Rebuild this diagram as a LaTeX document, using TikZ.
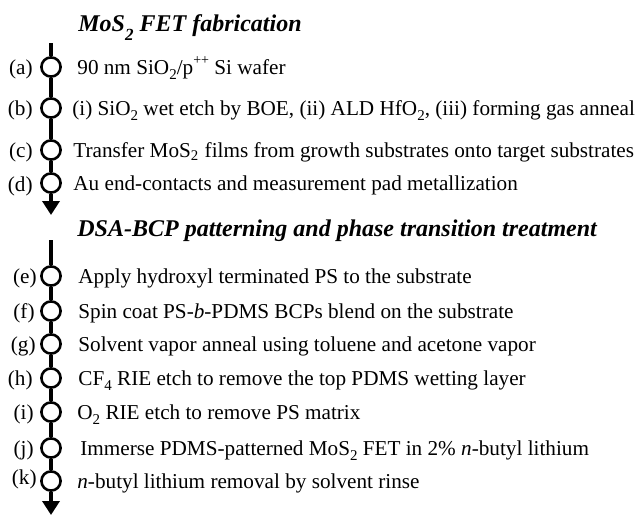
\documentclass[tikz,border=0pt]{standalone}
\usepackage{fontspec}
\setmainfont{Liberation Serif}
\usepackage{tikz}
\usetikzlibrary{positioning,arrows.meta}

% lowered and raised indices as the figure sets them
\newcommand{\lsub}[1]{\raisebox{-0.6ex}{\fontsize{7.5}{8}\selectfont #1}}
\newcommand{\tsub}[1]{\raisebox{-0.9ex}{\fontsize{8.5}{9}\selectfont #1}}
\newcommand{\hsup}[1]{\raisebox{1.0ex}{\fontsize{7}{8}\selectfont #1}}

\tikzset{
  stage/.style={circle, draw, line width=1.3pt, fill=white, inner sep=0pt, minimum size=9.6pt},
  spine/.style={line width=2.2pt},
  lbl/.style={anchor=base east, inner sep=0pt, font=\fontsize{10.6}{12}\selectfont},
  txt/.style={anchor=base west, inner sep=0pt, font=\fontsize{10.6}{12}\selectfont},
  ttl/.style={anchor=base west, inner sep=0pt, font=\fontsize{12}{14}\selectfont\bfseries\itshape}
}

\begin{document}
\begin{tikzpicture}[x=0.5pt, y=-0.5pt]

    \useasboundingbox (0,0) rectangle (639,515);

    % Titles
    \node[ttl] (t1) at (78,31) {MoS\tsub{2} FET fabrication};
    \node[ttl] (t2) at (77,236) {DSA-BCP patterning and phase transition treatment};

    % Spine ends
    \coordinate (top1) at (51,43);
    \coordinate (end1) at (51,215);
    \coordinate (top2) at (51,240);
    \coordinate (end2) at (51,515);

    % Circles of the first part
    \node[stage] (a) at (51,67) {};
    \node[stage] (b) at (51,108) {};
    \node[stage] (c) at (51,150) {};
    \node[stage] (d) at (51,183) {};

    % Circles of the second part
    \node[stage] (e) at (51,276) {};
    \node[stage] (f) at (51,311) {};
    \node[stage] (g) at (51,344) {};
    \node[stage] (h) at (51,378) {};
    \node[stage] (i) at (51,412) {};
    \node[stage] (j) at (51,448) {};
    \node[stage] (k) at (51,481) {};

    % Spines
    \draw[spine] (top1) -- (a) -- (b) -- (c) -- (d);
    \draw[spine, -{Triangle[width=8.5pt, length=7pt]}] (d) -- (end1);
    \draw[spine] (top2) -- (e) -- (f) -- (g) -- (h) -- (i) -- (j) -- (k);
    \draw[spine, -{Triangle[width=8.5pt, length=7pt]}] (k) -- (end2);

    % Letters
    \node[lbl] (la) at (33,74) {(a)};
    \node[lbl] (lb) at (33,115) {(b)};
    \node[lbl] (lc) at (33,157) {(c)};
    \node[lbl] (ld) at (33,191) {(d)};
    \node[lbl] (le) at (37,283) {(e)};
    \node[lbl] (lf) at (35,318) {(f)};
    \node[lbl] (lg) at (36,351) {(g)};
    \node[lbl] (lh) at (33,385) {(h)};
    \node[lbl] (li) at (34,419) {(i)};
    \node[lbl] (lj) at (34,455) {(j)};
    \node[lbl] (lk) at (37,484) {(k)};

    % Steps
    \node[txt] (sa) at (77,74) {90 nm SiO\lsub{2}/p\hsup{++} Si wafer};
    \node[txt] (sb) at (72,115) {(i) SiO\lsub{2} wet etch by BOE, (ii) ALD HfO\lsub{2}, (iii) forming gas anneal};
    \node[txt] (sc) at (73,157) {Transfer MoS\textsubscript{2} films from growth substrates onto target substrates};
    \node[txt] (sd) at (73,190) {Au end-contacts and measurement pad metallization};
    \node[txt] (se) at (78,283) {Apply hydroxyl terminated PS to the substrate};
    \node[txt] (sf) at (78,318) {Spin coat PS-\textit{b}-PDMS BCPs blend on the substrate};
    \node[txt] (sg) at (78,351) {Solvent vapor anneal using toluene and acetone vapor};
    \node[txt] (sh) at (78,385) {CF\lsub{4} RIE etch to remove the top PDMS wetting layer};
    \node[txt] (si) at (77,419) {O\lsub{2} RIE etch to remove PS matrix};
    \node[txt] (sj) at (80,455) {Immerse PDMS-patterned MoS\lsub{2} FET in 2\% \textit{n}-butyl lithium};
    \node[txt] (sk) at (77,488) {\textit{n}-butyl lithium removal by solvent rinse};

\end{tikzpicture}
\end{document}
